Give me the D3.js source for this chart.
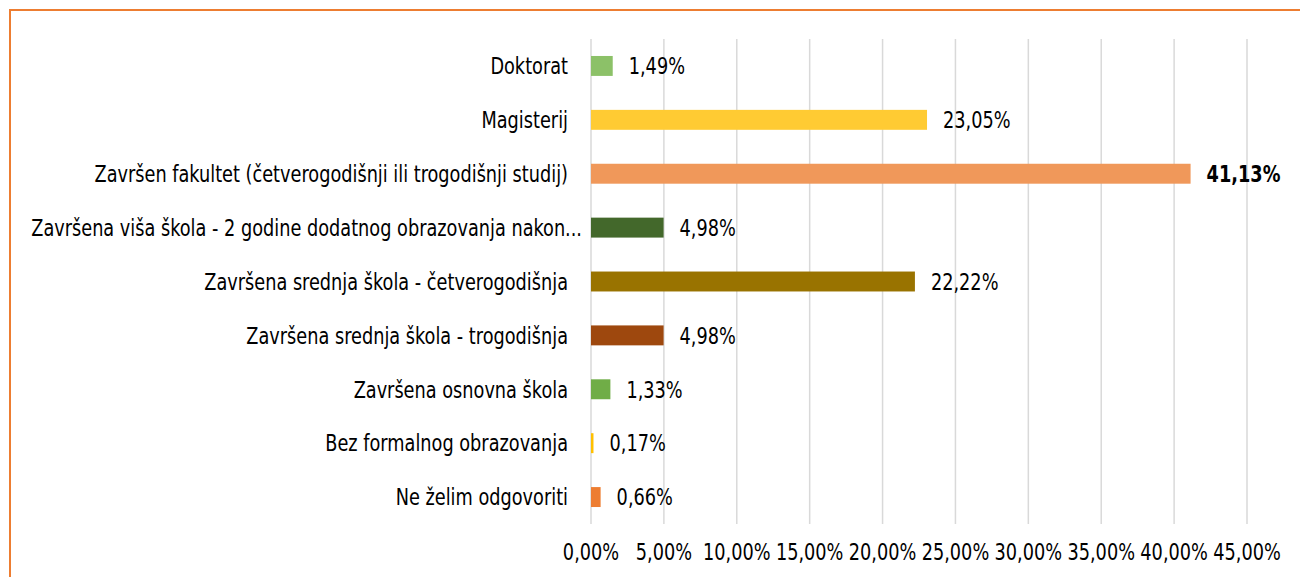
<!DOCTYPE html>
<html>
<head>
<meta charset="utf-8">
<script src="https://cdn.jsdelivr.net/npm/d3@7"></script>
<style>
  body { margin: 0; background: #fff; }
  text { font-family: "DejaVu Sans Condensed", "DejaVu Sans", sans-serif; fill: #000; }
</style>
</head>
<body>
<script>
var categories = ["Doktorat",
                  "Magisterij",
                  "Završen fakultet (četverogodišnji ili trogodišnji studij)",
                  "Završena viša škola - 2 godine dodatnog obrazovanja nakon...",
                  "Završena srednja škola - četverogodišnja",
                  "Završena srednja škola - trogodišnja",
                  "Završena osnovna škola",
                  "Bez formalnog obrazovanja",
                  "Ne želim odgovoriti"]
var values = [1.49, 23.05, 41.13, 4.98, 22.22, 4.98, 1.33, 0.17, 0.66]
var colors = ["#8cc168", "#ffcb33", "#f0985a", "#43682b", "#997300", "#9e480e", "#70ad47", "#ffc000", "#ed7d31"]
var ticks = [0, 5, 10, 15, 20, 25, 30, 35, 40, 45]

var width = 1300, height = 577
var plot = {left: 591, right: 1247, top: 39, bottom: 524}
var fontSize = 23

var svg = d3.select("body").append("svg")
    .attr("width", width)
    .attr("height", height)

// orange frame
svg.append("rect")
    .attr("x", 10).attr("y", 10)
    .attr("width", 1400).attr("height", 700)
    .attr("fill", "none")
    .attr("stroke", "#ed7d31")
    .attr("stroke-width", 2)

var x = d3.scaleLinear().domain([0, 45]).range([plot.left, plot.right])
var y = d3.scaleBand().domain(categories).range([plot.top, plot.bottom])
    .paddingInner(0.63).paddingOuter(0.315)

function fmt(v) {
    return v.toFixed(2).replace(".", ",") + "%"
}

// measure the long label to squeeze text like a condensed face
var probe = svg.append("text").attr("font-size", fontSize).text(categories[3])
var k = 551 / probe.node().getComputedTextLength()
probe.remove()

function place(px, py) {
    return "translate(" + px + "," + py + ") scale(" + k + ",1)"
}

// gridlines
svg.selectAll(".grid")
    .data(ticks)
    .enter().append("line")
    .attr("x1", function(d) { return x(d) })
    .attr("x2", function(d) { return x(d) })
    .attr("y1", plot.top)
    .attr("y2", plot.bottom)
    .attr("stroke", "#d9d9d9")
    .attr("stroke-width", 1.5)

// x tick labels
svg.selectAll(".tick-label")
    .data(ticks)
    .enter().append("text")
    .attr("transform", function(d) { return place(x(d), 560) })
    .attr("text-anchor", "middle")
    .attr("font-size", fontSize)
    .text(fmt)

// bars
svg.selectAll(".bar")
    .data(categories)
    .enter().append("rect")
    .attr("x", x(0))
    .attr("y", function(d) { return y(d) })
    .attr("width", function(d, i) { return x(values[i]) - x(0) })
    .attr("height", y.bandwidth())
    .attr("fill", function(d, i) { return colors[i] })

// category labels (the truncated one runs a bit further right, as in excel)
svg.selectAll(".cat")
    .data(categories)
    .enter().append("text")
    .attr("transform", function(d) {
        var ax = d.slice(-3) == "..." ? 582 : 568
        return place(ax, y(d) + y.bandwidth() / 2)
    })
    .attr("dy", "0.36em")
    .attr("text-anchor", "end")
    .attr("font-size", fontSize)
    .text(function(d) { return d })

// value labels
svg.selectAll(".val")
    .data(values)
    .enter().append("text")
    .attr("transform", function(d, i) { return place(x(d) + 16, y(categories[i]) + y.bandwidth() / 2) })
    .attr("dy", "0.36em")
    .attr("font-size", fontSize)
    .attr("font-weight", function(d) { return d == d3.max(values) ? "bold" : "normal" })
    .text(fmt)
</script>
</body>
</html>
